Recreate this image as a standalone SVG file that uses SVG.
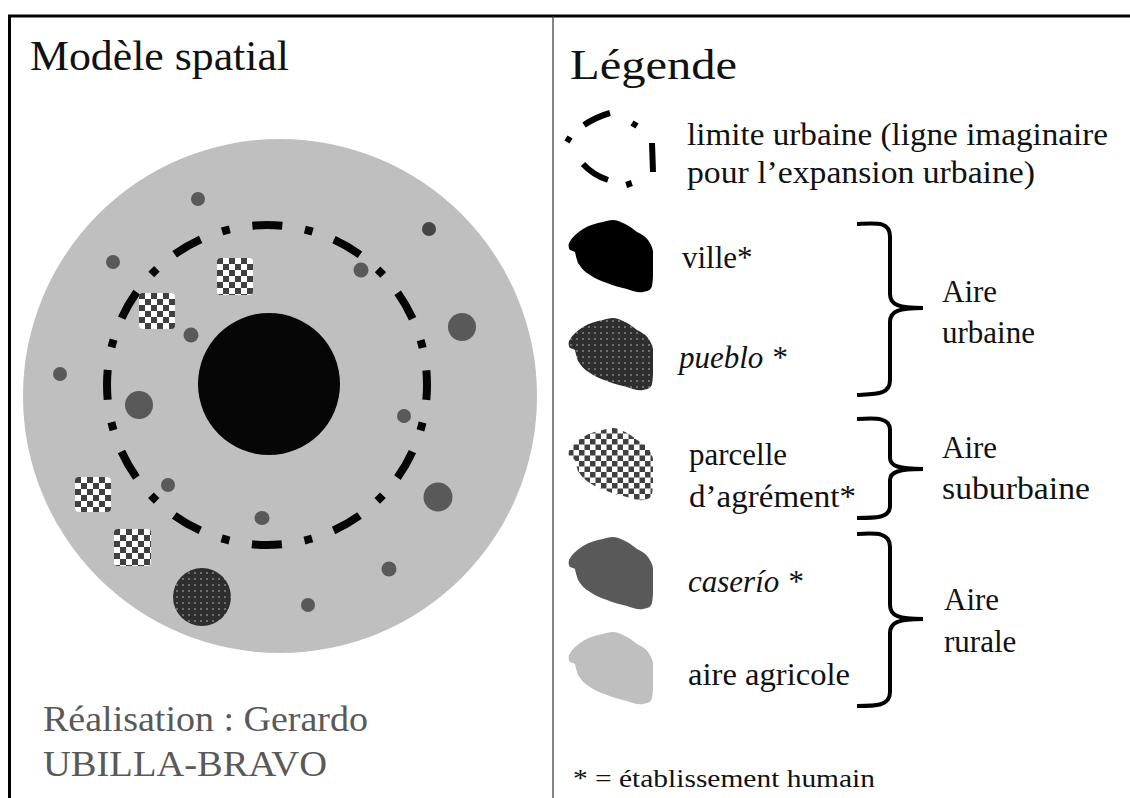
<svg xmlns="http://www.w3.org/2000/svg" width="1130" height="798" viewBox="0 0 1130 798" font-family="'Liberation Serif', 'Times New Roman', serif">
<style>
text{font-family:'Liberation Serif','Times New Roman',serif;fill:#111}
.lbl{font-size:31px}
.it{font-style:italic}
.title{font-size:42px}
.auth{font-size:35px;fill:#595959}
.brace{fill:none;stroke:#000;stroke-width:4}
.dash{fill:none;stroke:#000;stroke-width:6}
.sm{fill:#595959}
</style>
<defs>
<pattern id="chk" patternUnits="userSpaceOnUse" width="12" height="12">
<rect width="12" height="12" fill="#fff"/>
<rect width="6" height="6" fill="#404040"/>
<rect x="6" y="6" width="6" height="6" fill="#404040"/>
</pattern>
<pattern id="chk2" patternUnits="userSpaceOnUse" width="11" height="11">
<rect width="11" height="11" fill="#fff"/>
<rect width="5.5" height="5.5" fill="#404040"/>
<rect x="5.5" y="5.5" width="5.5" height="5.5" fill="#404040"/>
</pattern>
<pattern id="dots" patternUnits="userSpaceOnUse" width="6" height="6">
<rect width="6" height="6" fill="#2e2e2e"/>
<rect x="2.4" y="2.4" width="1.2" height="1.2" fill="#e0e0e0"/>
</pattern>
<path id="blob" d="M35,2 C28,3 22,5 15,9 C9,13 4,17 1,23 C0,26 1,29 2,30 C4,31 6,31 7,32 C8,37 9,40 10,43 C14,49 17,52 22,55 C28,59 33,61 39,63 C46,66 52,67 59,69 C65,71 70,73 75,72 C80,71 83,70 84,66 C85,60 85,57 85,53 L85,31 C84,26 82,23 80,20 C77,16 73,14 69,12 C64,8 60,5 55,3 C51,1 48,0 45,0 C41,0 38,1 35,2 Z"/>
</defs>
<rect width="1130" height="798" fill="#fff"/>

<g id="frame">
<line x1="8" y1="16" x2="1130" y2="16" stroke="#000" stroke-width="3"/>
<line x1="9.5" y1="15" x2="9.5" y2="798" stroke="#000" stroke-width="3"/>
<line x1="553" y1="16" x2="553" y2="798" stroke="#333" stroke-width="1.2"/>
</g>

<g id="titles" font-family="'Liberation Serif', serif">
<text class="title" x="30" y="70" textLength="259" lengthAdjust="spacingAndGlyphs">Modèle spatial</text>
<text class="title" x="570" y="79" textLength="167" lengthAdjust="spacingAndGlyphs">Légende</text>
</g>

<g id="map">
<circle id="aire-agricole" cx="280" cy="396" r="257" fill="#bfbfbf"/>
<circle id="ville" cx="269" cy="384" r="71" fill="#060606"/>
<circle id="limite-urbaine" cx="267" cy="385" r="160" fill="none" stroke="#050505" stroke-width="8" stroke-dasharray="30 22.89 8 22.89" stroke-dashoffset="15"/>
<g id="caserios" class="sm">
<circle cx="198" cy="199" r="7"/>
<circle cx="429" cy="229" r="7" fill="#454545"/>
<circle cx="113" cy="262" r="7"/>
<circle cx="361" cy="270" r="7.5"/>
<circle cx="191" cy="335" r="7.5"/>
<circle cx="462" cy="327" r="14"/>
<circle cx="60" cy="374" r="7"/>
<circle cx="139" cy="405" r="14"/>
<circle cx="404" cy="416" r="7"/>
<circle cx="168" cy="485" r="7"/>
<circle cx="438" cy="497" r="14.5"/>
<ellipse cx="262" cy="518" rx="7.5" ry="7"/>
<circle cx="389" cy="569" r="7.5"/>
<circle cx="308" cy="605" r="7"/>
</g>
<circle id="pueblo" cx="202" cy="597" r="29" fill="url(#dots)"/>
<g id="parcelles">
<g transform="translate(217,258)"><rect width="36" height="37" rx="4" fill="url(#chk)"/></g>
<g transform="translate(139,293)"><rect width="36" height="36" rx="4" fill="url(#chk)"/></g>
<g transform="translate(75,477)"><rect width="36" height="35" rx="4" fill="url(#chk)"/></g>
<g transform="translate(114,529)"><rect width="37" height="37" rx="4" fill="url(#chk)"/></g>
</g>
</g>

<g id="author" font-family="'Liberation Serif', serif">
<text class="auth" x="43" y="731" textLength="325" lengthAdjust="spacingAndGlyphs">Réalisation : Gerardo</text>
<text class="auth" x="43" y="776" textLength="284" lengthAdjust="spacingAndGlyphs">UBILLA-BRAVO</text>
</g>

<g id="legend-limite" font-family="'Liberation Serif', serif">
<path class="dash" d="M566,138 L571,141"/>
<path class="dash" d="M584,125 Q596,117 610,113"/>
<path class="dash" d="M632,123 L637,126"/>
<path class="dash" d="M652,143 L653,172"/>
<path class="dash" d="M628,181 L630,187"/>
<path class="dash" d="M583,164 Q593,175 608,180"/>
<text class="lbl" x="687" y="145" textLength="421" lengthAdjust="spacingAndGlyphs">limite urbaine (ligne imaginaire</text>
<text class="lbl" x="687" y="183" textLength="348" lengthAdjust="spacingAndGlyphs">pour l’expansion urbaine)</text>
</g>

<g id="legend-ville" font-family="'Liberation Serif', serif">
<use href="#blob" transform="translate(568,220)" fill="#000"/>
<text class="lbl" x="682" y="268">ville*</text>
</g>
<g id="legend-pueblo" font-family="'Liberation Serif', serif">
<use href="#blob" transform="translate(568,318)" fill="url(#dots)"/>
<text class="lbl it" x="679" y="368">pueblo *</text>
</g>
<g id="legend-parcelle" font-family="'Liberation Serif', serif">
<use href="#blob" transform="translate(568,428)" fill="url(#chk2)"/>
<text class="lbl" x="689" y="465">parcelle</text>
<text class="lbl" x="689" y="507" textLength="167" lengthAdjust="spacingAndGlyphs">d’agrément*</text>
</g>
<g id="legend-caserio" font-family="'Liberation Serif', serif">
<use href="#blob" transform="translate(568,537)" fill="#595959"/>
<text class="lbl it" x="688" y="592">caserío *</text>
</g>
<g id="legend-agricole" font-family="'Liberation Serif', serif">
<use href="#blob" transform="translate(568,632)" fill="#bfbfbf"/>
<text class="lbl" x="688" y="685" textLength="162" lengthAdjust="spacingAndGlyphs">aire agricole</text>
</g>

<g id="connectors">
<path class="brace" d="M857,224 C876,223 890,221 890,237 L890,294 C890,305 899,308 923,308 C899,308 890,311 890,322 L890,380 C890,395 876,394 857,395"/>
<path class="brace" d="M857,419 C876,418 890,417 890,430 L890,458 C890,466 899,469 923,469 C899,469 890,472 890,480 L890,506 C890,518 876,518 857,518"/>
<path class="brace" d="M857,534 C876,533 890,532 890,547 L890,605 C890,616 899,619 923,619 C899,619 890,622 890,633 L890,692 C890,706 876,706 857,706"/>
</g>

<g id="areas" font-family="'Liberation Serif', serif">
<text class="lbl" x="942" y="302">Aire</text>
<text class="lbl" x="942" y="343">urbaine</text>
<text class="lbl" x="942" y="458">Aire</text>
<text class="lbl" x="942" y="499" textLength="148" lengthAdjust="spacingAndGlyphs">suburbaine</text>
<text class="lbl" x="944" y="610">Aire</text>
<text class="lbl" x="944" y="652">rurale</text>
</g>

<g id="footnote" font-family="'Liberation Serif', serif">
<text x="573" y="787" style="font-size:26px" textLength="302" lengthAdjust="spacingAndGlyphs">* = établissement humain</text>
</g>
</svg>
